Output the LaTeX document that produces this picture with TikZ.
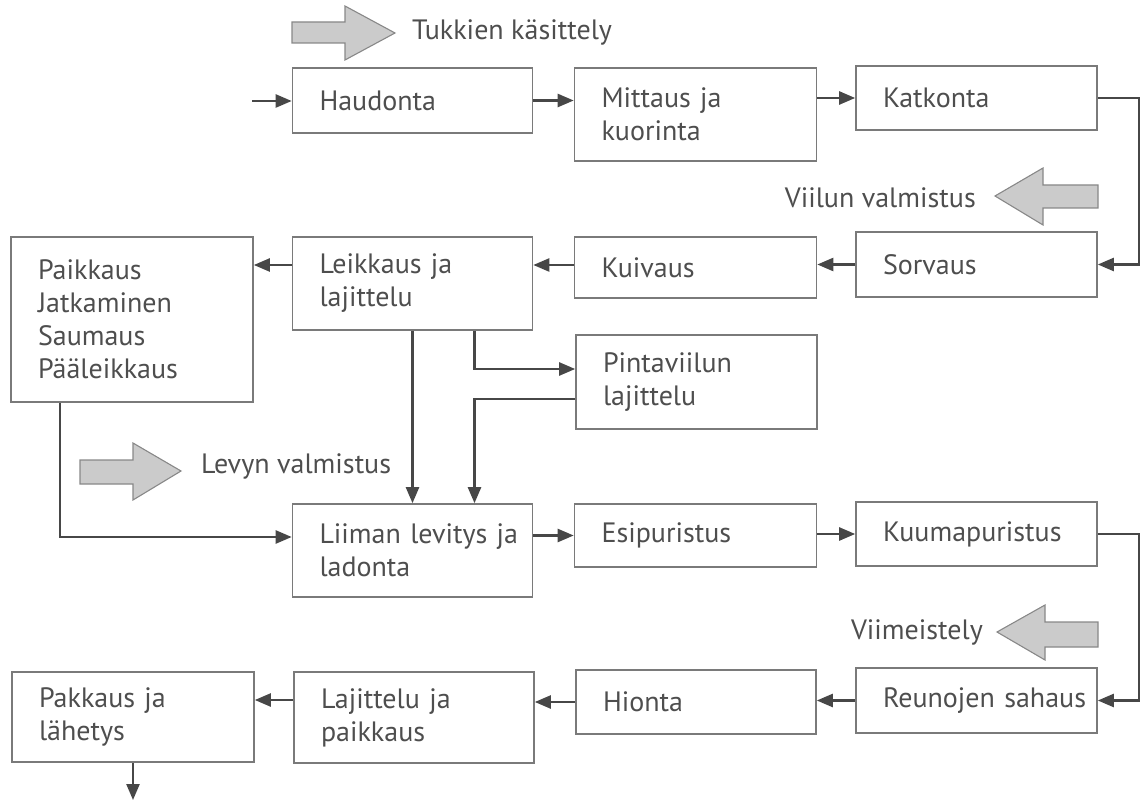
\documentclass[tikz,border=0pt]{standalone}
\usepackage{fontspec}
\setmainfont{PT Sans}
\usetikzlibrary{arrows.meta}
\definecolor{ink}{HTML}{474747}
\definecolor{boxline}{HTML}{7A7A7A}
\definecolor{txt}{HTML}{4E4E4E}
\definecolor{bigfill}{HTML}{CBCBCB}
\definecolor{bigline}{HTML}{888888}
\begin{document}
\begin{tikzpicture}[x=1pt,y=-1pt,
  every node/.style={font=\fontsize{28}{33}\selectfont, text=txt},
  stepbox/.style={draw=boxline, line width=1.6pt, inner xsep=27pt, inner ysep=0pt, align=left, anchor=center},
  flow/.style={draw=ink, line width=2.4pt, -{Triangle[length=16pt,width=13pt]}},
  bigarrow/.style={fill=bigfill, draw=bigline, line width=1.1pt, line join=miter},
  phase/.style={inner sep=0pt}
]
\useasboundingbox (0,0) rectangle (1141,802);

% process boxes: name, centre x, centre y, width, height, text
\newcommand{\stepnode}[6]{%
  \node[stepbox, minimum width=#4, minimum height=#5, text width=#4-54] (#1) at (#2,#3) {#6};}

\stepnode{haud}{412.5}{100.5}{240pt}{65pt}{Haudonta}
\stepnode{mitt}{695.5}{114.5}{242pt}{93pt}{Mittaus ja\\kuorinta}
\stepnode{katk}{976.5}{98}{241pt}{64pt}{Katkonta}
\stepnode{sorv}{976.5}{264.5}{241pt}{65pt}{Sorvaus}
\stepnode{kuiv}{695.5}{267.5}{242pt}{61pt}{Kuivaus}
\stepnode{leik}{412.5}{283.5}{240pt}{93pt}{Leikkaus ja\\lajittelu}
\stepnode{paik}{132}{319.5}{242pt}{165pt}{Paikkaus\\Jatkaminen\\Saumaus\\Pääleikkaus}
\stepnode{pint}{696.5}{382}{241pt}{94pt}{Pintaviilun\\lajittelu}
\stepnode{liim}{412.5}{550.5}{240pt}{93pt}{\mbox{Liiman levitys ja}\\ladonta}
\stepnode{esip}{695.5}{535.5}{242pt}{63pt}{Esipuristus}
\stepnode{kuum}{976.5}{534}{241pt}{64pt}{Kuumapuristus}
\stepnode{reun}{976.5}{700.5}{241pt}{65pt}{\mbox{Reunojen sahaus}}
\stepnode{hion}{696}{702}{240pt}{64pt}{Hionta}
\stepnode{lajp}{414}{717.5}{240pt}{91pt}{Lajittelu ja\\paikkaus}
\stepnode{pakk}{133}{717}{242pt}{90pt}{Pakkaus ja\\lähetys}

% phase headings with wide grey arrows
\draw[bigarrow] (292,22) -- (345,22) -- (345,6) -- (395,33) -- (345,60) -- (345,43) -- (292,43) -- cycle;
\node[phase, anchor=west] (tukki) at (412,32) {Tukkien käsittely};

\draw[bigarrow] (1098,185) -- (1043,185) -- (1043,168) -- (995,196) -- (1043,225) -- (1043,208) -- (1098,208) -- cycle;
\node[phase, anchor=east] (viilu) at (976,198) {Viilun valmistus};

\draw[bigarrow] (80,460) -- (133,460) -- (133,443) -- (181,471) -- (133,500) -- (133,484) -- (80,484) -- cycle;
\node[phase, anchor=west] (levy) at (201,466) {Levyn valmistus};

\draw[bigarrow] (1098,622) -- (1045,622) -- (1045,605) -- (997,632) -- (1045,660) -- (1045,647) -- (1098,647) -- cycle;
\node[phase, anchor=east] (viim) at (983,632) {Viimeistely};

% free ends of the line
\coordinate (start) at (252,101);
\coordinate (finish) at (133,800);

% connectors
\draw[flow] (start) -- (start -| haud.west);
\draw[flow] (haud.east) -- (haud.east -| mitt.west);
\draw[flow] (katk.west -| mitt.east) -- (katk.west);
\draw[flow] (katk.east) -- ++(41,0) |- (sorv.east);
\draw[flow] (sorv.west) -- (sorv.west -| kuiv.east);
\draw[flow] ([yshift=2.5pt]kuiv.west) -- ([yshift=2.5pt]kuiv.west -| leik.east);
\draw[flow] ([yshift=2.5pt]kuiv.west -| leik.west) -- ([yshift=2.5pt]kuiv.west -| paik.east);
\draw[flow] (leik.south) -- (liim.north);
\draw[flow] ([xshift=62pt]leik.south) |- ([yshift=13pt]pint.west);
\draw[flow] ([yshift=-17pt]pint.west) -| ([xshift=62pt]liim.north);
\draw[flow] ([xshift=-72pt]paik.south) |- ([yshift=13.5pt]liim.west);
\draw[flow] (esip.west -| liim.east) -- (esip.west);
\draw[flow] (kuum.west -| esip.east) -- (kuum.west);
\draw[flow] (kuum.east) -- ++(41,0) |- (reun.east);
\draw[flow] (reun.west) -- (reun.west -| hion.east);
\draw[flow] (hion.west) -- (hion.west -| lajp.east);
\draw[flow] ([yshift=2pt]hion.west -| lajp.west) -- ([yshift=2pt]hion.west -| pakk.east);
\draw[flow] (pakk.south) -- (finish);
\end{tikzpicture}
\end{document}
